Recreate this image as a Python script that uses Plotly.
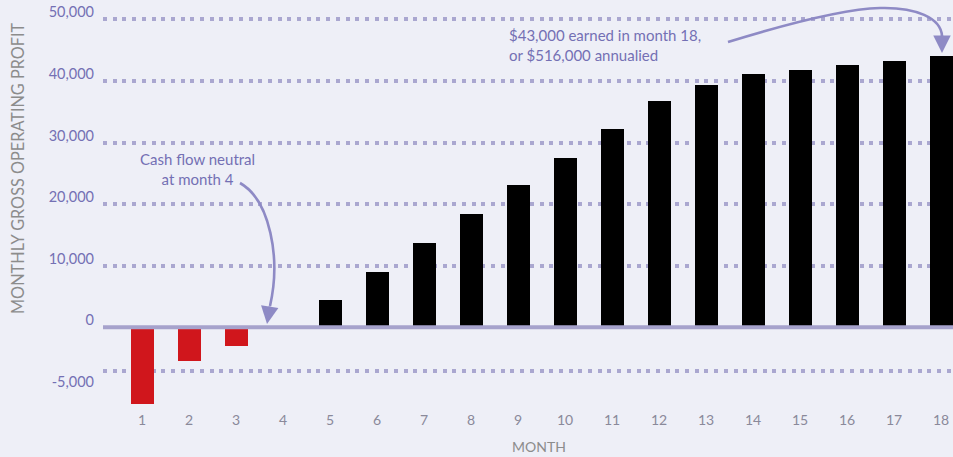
import plotly.graph_objects as go

# ---- data ----
months = list(range(1, 19))
profit = [-8900, -3900, -2200, 0, 4400, 9000, 13700, 18400, 23100, 27500,
          32200, 36700, 39300, 41100, 41800, 42600, 43200, 44000]
pos_tickvals = [0, 10000, 20000, 30000, 40000, 50000]
pos_ticktext = ["0", "10,000", "20,000", "30,000", "40,000", "50,000"]
neg_tickvals = [-5000]
neg_ticktext = ["-5,000"]
month_labels = [str(m) for m in months]

# ---- geometry / style ----
W, H = 953, 457
L, R, T, B = 103, 0, 10, 47
PW, PH = W - L - R, H - T - B
ZERO_PX = 327.3
POS_SCALE = 61.6 / 10000   # px per unit above zero
NEG_SCALE = 43.4 / 5000    # px per unit below zero


def px(x):
    return (x - L) / PW


def py(y):
    return (T + PH - y) / PH


zero_paper = py(ZERO_PX)
pos_top = (ZERO_PX - T) / POS_SCALE
neg_bottom = -(T + PH - ZERO_PX) / NEG_SCALE

BG = "#eeeff7"
PURPLE = "#7470b4"
DOTS = "#aaa7d0"
ARROW = "#8e8ac5"
GRAY = "#8c8c8c"
FONT = "Lato"

neg_x = [m for m, v in zip(months, profit) if v < 0]
neg_y = [v for v in profit if v < 0]
pos_x = [m for m, v in zip(months, profit) if v >= 0]
pos_y = [v for v in profit if v >= 0]

fig = go.Figure()
fig.add_trace(go.Bar(x=neg_x, y=neg_y, yaxis="y2", width=0.49,
                     marker=dict(color="#d0161c", line=dict(width=0)),
                     hoverinfo="x+y", showlegend=False))
fig.add_trace(go.Bar(x=pos_x, y=pos_y, yaxis="y", width=0.49,
                     marker=dict(color="#000000", line=dict(width=0)),
                     hoverinfo="x+y", showlegend=False))

grid = dict(showgrid=True, gridcolor=DOTS, gridwidth=4, griddash="4px,5.7px",
            zeroline=False, showline=False, ticks="", ticklabelstandoff=8,
            tickfont=dict(family=FONT, size=14.5, color=PURPLE))

fig.update_layout(
    width=W, height=H,
    margin=dict(l=L, r=R, t=T, b=B, pad=0),
    paper_bgcolor=BG, plot_bgcolor=BG,
    bargap=0, barmode="overlay",
    font=dict(family=FONT),
    xaxis=dict(range=[0.17, 18.255], tickvals=months, ticktext=month_labels,
               anchor="free", position=0, showgrid=False, zeroline=False,
               showline=False, ticks="", ticklabelstandoff=0,
               tickfont=dict(family=FONT, size=14, color="#8a899a")),
    yaxis=dict(domain=[zero_paper, 1], range=[0, pos_top],
               tickvals=pos_tickvals, ticktext=pos_ticktext,
               ticklabelshift=-7, anchor="x", **grid),
    yaxis2=dict(domain=[0, zero_paper], range=[neg_bottom, 0],
                tickvals=neg_tickvals, ticktext=neg_ticktext,
                ticklabelshift=11, anchor="x", **grid),
)

shapes = [
    dict(type="line", xref="paper", yref="paper", x0=0, x1=1,
         y0=zero_paper, y1=zero_paper, line=dict(color="#a6a2cc", width=4),
         layer="above"),
]


def curve(points):
    (x0, y0), rest = points[0], points[1:]
    d = f"M {px(x0):.5f},{py(y0):.5f}"
    for i in range(0, len(rest), 3):
        (a, b), (c, e), (f, g) = rest[i:i + 3]
        d += (f" C {px(a):.5f},{py(b):.5f} {px(c):.5f},{py(e):.5f}"
              f" {px(f):.5f},{py(g):.5f}")
    return d


shapes.append(dict(type="path", xref="paper", yref="paper",
                   path=curve([(240, 183), (270, 200), (281, 258), (270, 306)]),
                   line=dict(color=ARROW, width=2.6), layer="above"))
shapes.append(dict(type="path", xref="paper", yref="paper",
                   path=curve([(728, 42), (780, 26), (840, 9), (880, 8),
                               (916, 7), (941, 18), (942, 36)]),
                   line=dict(color=ARROW, width=2.6), layer="above"))

note_font = dict(family=FONT, size=15, color=PURPLE)
annotations = [
    dict(text="Cash flow neutral<br>at month 4", xref="paper", yref="paper",
         x=px(197.5), y=py(168.5), xanchor="center", yanchor="middle",
         align="center", showarrow=False, font=note_font),
    dict(text="$43,000 earned in month 18,<br>or $516,000 annualied",
         xref="paper", yref="paper", x=px(507), y=py(45), xanchor="left",
         yanchor="middle", align="left", showarrow=False, font=note_font),
    dict(text="MONTHLY GROSS OPERATING PROFIT", xref="paper", yref="paper",
         x=px(17), y=py(168), xanchor="center", yanchor="middle",
         textangle=-90, showarrow=False,
         font=dict(family=FONT, size=16.3, color=GRAY)),
    dict(text="MONTH", xref="paper", yref="paper", x=px(539), y=py(446),
         xanchor="center", yanchor="middle", showarrow=False,
         font=dict(family=FONT, size=14, color=GRAY)),
    # arrow heads
    dict(text="", xref="paper", yref="paper", x=px(267), y=py(324),
         ax=3, ay=-19, showarrow=True, arrowhead=2, arrowsize=1.4,
         arrowwidth=2.5, arrowcolor=ARROW, standoff=0),
    dict(text="", xref="paper", yref="paper", x=px(942), y=py(53),
         ax=0, ay=-19, showarrow=True, arrowhead=2, arrowsize=1.4,
         arrowwidth=2.5, arrowcolor=ARROW, standoff=0),
]

fig.update_layout(shapes=shapes, annotations=annotations)
fig.write_html("out.html", config={"displayModeBar": False},
               post_script="document.body.style.margin='0';"
                           "document.body.style.overflow='hidden';")
